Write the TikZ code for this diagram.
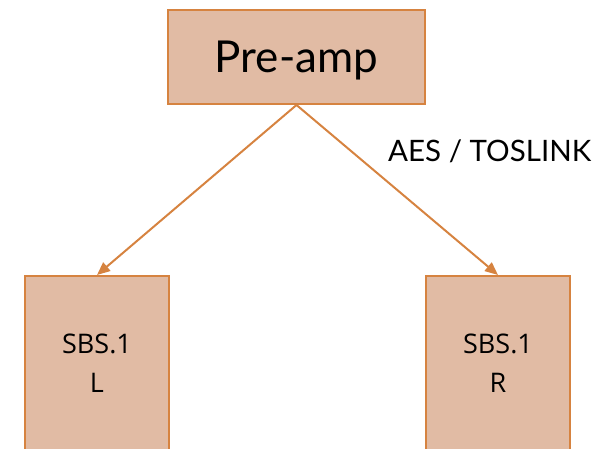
\documentclass[tikz,border=0pt]{standalone}
\usepackage{fontspec}
\setmainfont{Lato}
\newfontfamily\segoe{Open Sans}
\usetikzlibrary{arrows.meta}
\definecolor{boxfill}{RGB}{225,187,164}
\definecolor{boxline}{RGB}{214,131,64}
\begin{document}
\begin{tikzpicture}[x=1pt,y=-1pt,
  box/.style={draw=boxline, fill=boxfill, line width=2pt, inner sep=0pt},
  conn/.style={draw=boxline, line width=2pt, -{Triangle[length=13pt,width=11pt]}}]
\useasboundingbox (0,0) rectangle (614,448);
\clip (0,0) rectangle (614,448);
\node[box, minimum width=257pt, minimum height=94pt, font=\fontsize{44}{50}\selectfont,
  text height=31.5pt, text depth=0pt] (pre) at (296.5,57) {Pre-amp};
\node[box, minimum width=144pt, minimum height=174pt, align=center,
  font=\segoe\fontsize{27}{39}\selectfont] (L) at (97,363) {SBS.1\\L};
\node[box, minimum width=144pt, minimum height=174pt, align=center,
  font=\segoe\fontsize{27}{39}\selectfont] (R) at (498,363) {SBS.1\\R};
\node[anchor=base west, inner sep=0pt, font=\fontsize{29.5}{34}\selectfont] (lab) at (388,161) {AES / TOSLINK};
\draw[conn] (pre.south) -- (L.north);
\draw[conn] (pre.south) -- (R.north);
\end{tikzpicture}
\end{document}
